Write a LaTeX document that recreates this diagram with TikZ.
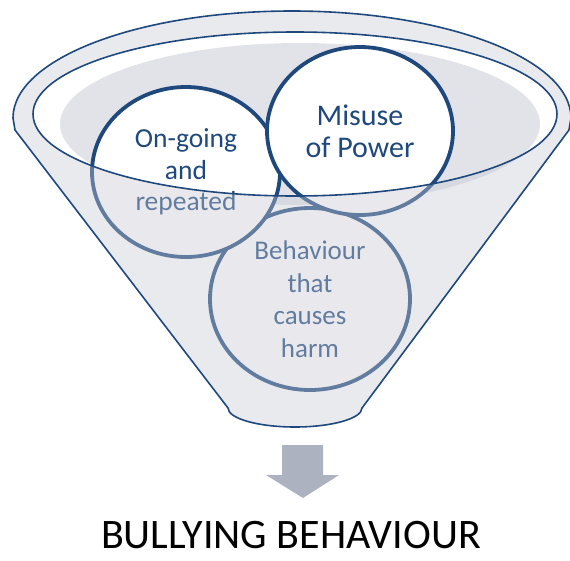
\documentclass[tikz,border=0pt]{standalone}
\usepackage{fontspec}
\setmainfont{Carlito}
\usepackage{tikz}
\usetikzlibrary{positioning,shapes.geometric}
\usepackage{xcolor}
\definecolor{navyblue}{RGB}{31,73,125}
\definecolor{cavity}{RGB}{226,227,232}
\definecolor{veil}{RGB}{200,202,212}
\definecolor{arrowgrey}{RGB}{173,178,192}

\begin{document}
\begin{tikzpicture}[
    x=1pt, y=-1pt,
    bubble/.style={ellipse, draw=navyblue, fill=white, line width=3.8pt, text=navyblue, align=center, inner sep=1pt},
    rim/.style={draw=navyblue, line width=1.6pt},
    blocktip/.style={fill=arrowgrey}
]
    \useasboundingbox (0,0) rectangle (570,560);

    % inside of the bowl
    \fill [cavity] (300,124) ellipse [x radius=240, y radius=81];

    % what goes in
    \node [bubble, minimum width=200pt, minimum height=182pt, font=\fontsize{27}{32.5}\selectfont] (harm) at (310,299) {Behaviour\\that\\causes\\harm};
    \node [bubble, minimum width=188pt, minimum height=170pt, font=\fontsize{27.5}{31.5}\selectfont] (repeat) at (186,172) {On-going\\and\\repeated};
    \node [bubble, minimum width=186pt, minimum height=168pt, font=\fontsize{30}{32}\selectfont] (power) at (360,131) {Misuse\\of Power};

    % funnel body over the bubbles, open at the rim
    \filldraw [rim, fill=veil, fill opacity=0.4, even odd rule]
        (13,118) arc [start angle=180, end angle=360, x radius=279, y radius=107]
        -- (569,130) -- (362,408)
        arc [start angle=0, end angle=180, x radius=67, y radius=19]
        -- (15,130) -- cycle
        (295,114) ellipse [x radius=262, y radius=82];

    % what comes out
    \coordinate (spout) at (303,445);
    \fill [blocktip] (spout) ++(-21,0) -- ++(41,0) -- ++(0,30) -- ++(16,0)
        -- (303,498) -- (266,475) -- ++(16,0) -- cycle;
    \node [font=\fontsize{42}{48}\selectfont, inner sep=0pt] (result) at (291,535) {BULLYING BEHAVIOUR};
\end{tikzpicture}
\end{document}
